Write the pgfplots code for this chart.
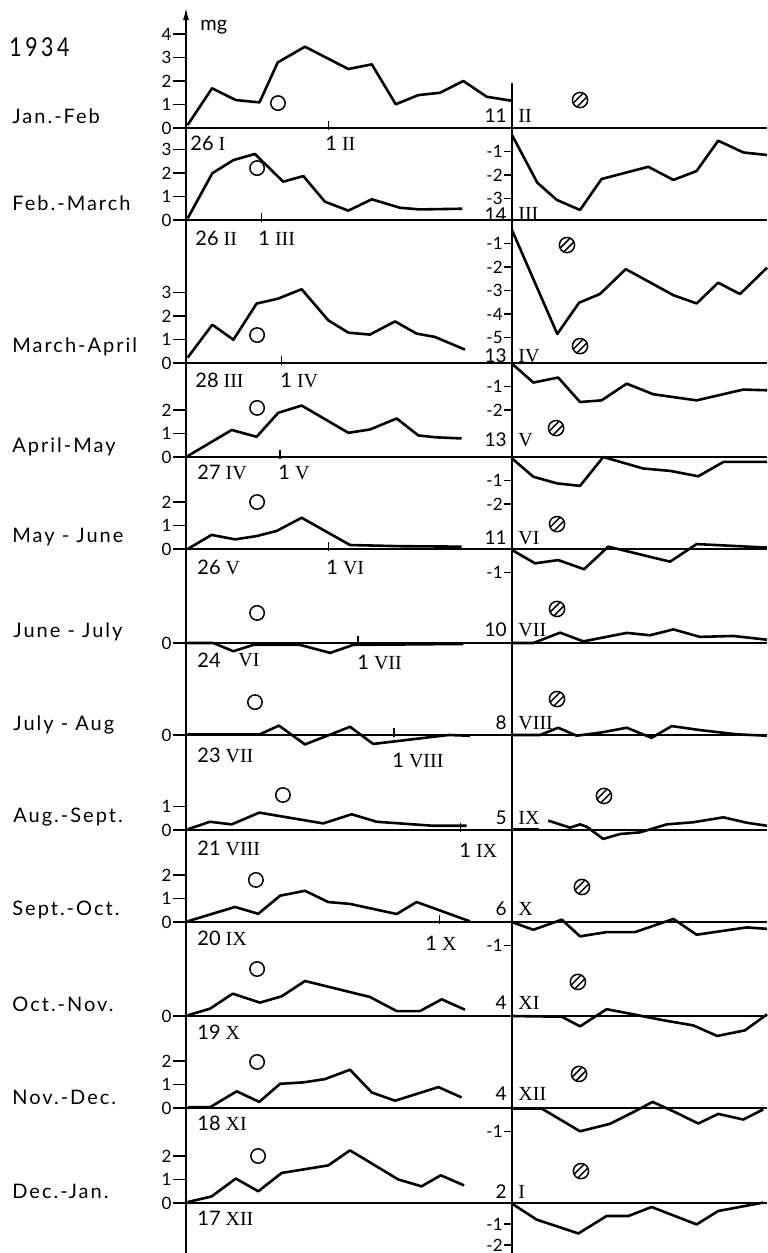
\documentclass[border=0pt]{standalone}
\usepackage{fontspec}
\setmainfont{Liberation Serif}
\newfontfamily\lato{Lato}
\newfontfamily\lab[LetterSpace=10]{Lato}
\usepackage{pgfplots}
\pgfplotsset{compat=1.18}
\usetikzlibrary{arrows.meta}

\pgfdeclareplotmark{hcirc}{%
 \pgfpathcircle{\pgfpointorigin}{\pgfplotmarksize}\pgfusepathqstroke
 \pgfpathmoveto{\pgfpoint{-0.909\pgfplotmarksize}{-0.415\pgfplotmarksize}}%
 \pgfpathlineto{\pgfpoint{0.415\pgfplotmarksize}{0.909\pgfplotmarksize}}%
 \pgfpathmoveto{\pgfpoint{-0.415\pgfplotmarksize}{-0.909\pgfplotmarksize}}%
 \pgfpathlineto{\pgfpoint{0.909\pgfplotmarksize}{0.415\pgfplotmarksize}}%
 \pgfusepathqstroke}

\pgfplotsset{
 base/.style={x=11.85pt, y=11.75pt, clip=false, xtick=\empty,
   tick align=outside,
   axis line style={-, line width=0.6pt},
   x axis line style={-}, y axis line style={-},
   every tick/.style={black, line width=0.6pt},
   tick label style={font=\lato\fontsize{8.5}{9}\selectfont, inner sep=0.5pt}},
 L/.style={base, xmin=0, xmax=13.76, ymin=0, anchor=south west,
   axis x line*=bottom, axis y line*=left, major tick length=6.5pt},
 R/.style={base, xmin=0, xmax=10.76, ymax=0, anchor=north west,
   axis x line*=top, axis y line*=left, major tick length=4pt},
 crv/.style={black, line width=1.3pt, line join=round, mark=none},
 fm/.style={only marks, mark=o, mark size=3.6pt, mark options={line width=0.75pt, black}},
 nm/.style={only marks, mark=hcirc, mark size=3.8pt, mark options={line width=0.75pt, black}},
}
\newcommand{\dt}[2]{{\lato #1}\hspace{2.5pt}#2}
\tikzset{lb/.style={anchor=west, inner sep=0pt, font=\lab\fontsize{10}{11}\selectfont},
 dl/.style={anchor=west, inner sep=0pt, font=\fontsize{10}{11}\selectfont},
 rn/.style={anchor=east, inner sep=0pt, font=\lato\fontsize{9.5}{11}\selectfont},
 dtick/.style={line width=0.6pt}}

\begin{document}
\begin{tikzpicture}
% ---------- Row 1 : Jan.-Feb ----------
\begin{axis}[L, at={(93pt,-64pt)}, ymax=5.1, ytick={0,1,2,3,4}, yticklabels={0,1,2,3,4},
  y axis line style={-{Latex[length=6pt,width=3pt]}}]
\addplot[crv] coordinates {(0.07,0.13)(1.1,1.69)(2.1,1.19)(3.1,1.09)(3.87,2.79)(5.02,3.46)(6.85,2.51)(7.84,2.71)(8.85,1.01)(9.8,1.4)(10.72,1.5)(11.7,2.0)(12.69,1.33)(13.74,1.16)};
\addplot[fm] coordinates {(3.88,1.06)};
\draw[dtick] (axis cs:6,-0.1) -- (axis cs:6,0.3);
\end{axis}
\begin{axis}[R, at={(256pt,-64pt)}, ymin=-3.91, ytick={-3,-2,-1}, yticklabels={-3,-2,-1}]
\addplot[crv] coordinates {(0,-0.3)(1.07,-2.33)(1.89,-3.06)(2.87,-3.49)(3.78,-2.17)(5.75,-1.65)(6.81,-2.21)(7.79,-1.83)(8.7,-0.54)(9.76,-1.04)(10.76,-1.15)};
\addplot[nm] coordinates {(2.87,1.19)};
\end{axis}
\draw[line width=0.6pt] (256pt,-41.5pt) -- (256pt,-64pt);
% ---------- Row 2 : Feb.-March ----------
\begin{axis}[L, at={(93pt,-110pt)}, ymax=3.91, ytick={0,1,2,3}, yticklabels={0,1,2,3}]
\addplot[crv] coordinates {(0.07,0.07)(1.11,1.99)(2.0,2.55)(2.91,2.81)(4.1,1.63)(4.95,1.87)(5.86,0.78)(6.85,0.4)(7.84,0.88)(9.03,0.52)(9.87,0.45)(11.66,0.48)};
\addplot[fm] coordinates {(3.0,2.21)};
\draw[dtick] (axis cs:3.2,-0.1) -- (axis cs:3.2,0.3);
\end{axis}
\begin{axis}[R, at={(256pt,-110pt)}, ymin=-6.09, ytick={-5,-4,-3,-2,-1}, yticklabels={-5,-4,-3,-2,-1}]
\addplot[crv] coordinates {(0,-0.43)(1.91,-4.85)(2.83,-3.52)(3.71,-3.15)(4.8,-2.09)(6.81,-3.2)(7.79,-3.55)(8.7,-2.67)(9.62,-3.15)(10.76,-2.03)};
\end{axis}
% ---------- Row 3 : March-April ----------
\begin{axis}[L, at={(93pt,-181.5pt)}, ymax=6.09, ytick={0,1,2,3}, yticklabels={0,1,2,3}]
\addplot[crv] coordinates {(0.07,0.23)(1.11,1.63)(2.0,0.99)(2.98,2.53)(3.89,2.74)(4.88,3.14)(6.0,1.82)(6.85,1.29)(7.76,1.21)(8.82,1.77)(9.73,1.25)(10.5,1.11)(11.77,0.57)};
\addplot[fm] coordinates {(3.0,1.19)};
\draw[dtick] (axis cs:4.04,-0.1) -- (axis cs:4.04,0.3);
\end{axis}
\begin{axis}[R, at={(256pt,-181.5pt)}, ymin=-4.0, ytick={-2,-1}, yticklabels={-2,-1}]
\addplot[crv] coordinates {(0,-0.03)(0.9,-0.83)(1.95,-0.62)(2.87,-1.66)(3.78,-1.59)(4.84,-0.88)(5.96,-1.33)(7.79,-1.59)(9.76,-1.13)(10.76,-1.16)};
\addplot[nm] coordinates {(2.32,5.02)(2.87,0.72)};
\end{axis}
% ---------- Row 4 : April-May ----------
\begin{axis}[L, at={(93pt,-228.5pt)}, ymax=4.0, ytick={0,1,2}, yticklabels={0,1,2}]
\addplot[crv] coordinates {(0.07,0.04)(1.93,1.15)(2.98,0.86)(3.89,1.88)(4.88,2.19)(6.85,1.03)(7.76,1.17)(8.89,1.64)(9.8,0.92)(10.5,0.84)(11.63,0.79)};
\addplot[fm] coordinates {(3.0,2.09)};
\draw[dtick] (axis cs:3.97,-0.1) -- (axis cs:3.97,0.3);
\end{axis}
\begin{axis}[R, at={(256pt,-228.5pt)}, ymin=-3.91, ytick={-2,-1}, yticklabels={-2,-1}]
\addplot[crv] coordinates {(0,-0.06)(0.9,-0.84)(1.89,-1.12)(2.87,-1.23)(3.85,0)(5.54,-0.49)(6.67,-0.59)(7.86,-0.82)(8.92,-0.21)(10.76,-0.21)};
\addplot[nm] coordinates {(1.86,1.23)};
\end{axis}
% ---------- Row 5 : May-June ----------
\begin{axis}[L, at={(93pt,-274.5pt)}, ymax=3.91, ytick={0,1,2}, yticklabels={0,1,2}]
\addplot[crv] coordinates {(0.07,0)(1.08,0.6)(2.07,0.41)(2.98,0.55)(3.83,0.77)(4.88,1.33)(6.92,0.17)(9,0.12)(11.63,0.1)};
\addplot[fm] coordinates {(3.0,2.0)};
\draw[dtick] (axis cs:6,-0.1) -- (axis cs:6,0.3);
\end{axis}
\begin{axis}[R, at={(256pt,-274.5pt)}, ymin=-4.0, ytick={-1}, yticklabels={-1}]
\addplot[crv] coordinates {(0,-0.04)(0.97,-0.61)(1.95,-0.47)(3.04,-0.86)(4.06,0.1)(6.67,-0.54)(7.79,0.21)(10.76,0.06)};
\addplot[nm] coordinates {(1.9,1.06)};
\end{axis}
% ---------- Row 6 : June-July ----------
\begin{axis}[L, at={(93pt,-321.5pt)}, ymax=4.0, ytick={0}, yticklabels={0}]
\addplot[crv] coordinates {(0.07,0)(1.15,0)(2.0,-0.35)(2.84,-0.08)(4.81,-0.08)(6.08,-0.42)(7.06,-0.08)(11.7,-0.04)};
\addplot[fm] coordinates {(3.0,1.28)};
\draw[dtick] (axis cs:7.26,-0.1) -- (axis cs:7.26,0.3);
\end{axis}
\begin{axis}[R, at={(256pt,-321.5pt)}, ymin=-3.91, ytick=\empty]
\addplot[crv] coordinates {(0,0)(0.9,0)(2.03,0.44)(3.01,0.07)(4.84,0.43)(5.82,0.33)(6.81,0.58)(7.93,0.26)(9.34,0.3)(10.76,0.14)};
\addplot[nm] coordinates {(1.9,1.45)};
\end{axis}
% ---------- Row 7 : July-Aug ----------
\begin{axis}[L, at={(93pt,-367.5pt)}, ymax=3.91, ytick={0}, yticklabels={0}]
\addplot[crv] coordinates {(0.07,0.03)(3.12,0.03)(3.92,0.4)(5.02,-0.4)(5.86,-0.07)(6.92,0.35)(7.9,-0.38)(11.07,0)(11.98,-0.03)};
\addplot[fm] coordinates {(2.91,1.4)};
\draw[dtick] (axis cs:8.78,-0.1) -- (axis cs:8.78,0.3);
\end{axis}
\begin{axis}[R, at={(256pt,-367.5pt)}, ymin=-4.04, ytick=\empty]
\addplot[crv] coordinates {(0,0)(1.18,0)(1.95,0.31)(2.73,-0.03)(3.78,0.11)(4.84,0.31)(5.89,-0.12)(6.74,0.38)(7.93,0.21)(9.48,0.03)(10.76,-0.03)};
\addplot[nm] coordinates {(1.9,1.53)};
\end{axis}
% ---------- Row 8 : Aug.-Sept. ----------
\begin{axis}[L, at={(93pt,-415pt)}, ymax=4.04, ytick={0,1}, yticklabels={0,1}]
\addplot[crv] coordinates {(0.07,0.03)(1.01,0.35)(1.93,0.24)(3.09,0.74)(5.79,0.28)(6.99,0.67)(8.05,0.35)(10.44,0.18)(11.84,0.18)};
\addplot[fm] coordinates {(4.09,1.49)};
\draw[dtick] (axis cs:11.59,-0.1) -- (axis cs:11.59,0.3);
\end{axis}
\begin{axis}[R, at={(256pt,-415pt)}, ymin=-3.91, ytick=\empty]
\addplot[crv] coordinates {(0,0.02)(1.15,0.02)};
\addplot[crv] coordinates {(1.53,0.4)(2.45,0.1)(2.87,0.24)(3.15,0.14)(3.85,-0.38)(4.56,-0.17)(5.4,-0.1)(6.53,0.24)(7.65,0.33)(8.92,0.54)(9.9,0.31)(10.76,0.18)};
\addplot[nm] coordinates {(3.88,1.45)};
\end{axis}
% ---------- Row 9 : Sept.-Oct. ----------
\begin{axis}[L, at={(93pt,-461pt)}, ymax=3.91, ytick={0,1,2}, yticklabels={0,1,2}]
\addplot[crv] coordinates {(0.07,0.03)(1.08,0.34)(2.07,0.64)(3.05,0.35)(3.97,1.12)(5.02,1.33)(6.0,0.85)(6.92,0.77)(8.89,0.34)(9.73,0.85)(11.98,0.03)};
\addplot[fm] coordinates {(2.95,1.79)};
\draw[dtick] (axis cs:10.69,-0.1) -- (axis cs:10.69,0.3);
\end{axis}
\begin{axis}[R, at={(256pt,-461pt)}, ymin=-4.0, ytick={-1}, yticklabels={-1}]
\addplot[crv] coordinates {(0,0)(0.9,-0.33)(2.1,0.1)(2.87,-0.61)(3.99,-0.43)(5.19,-0.43)(6.81,0.13)(7.79,-0.54)(9.9,-0.23)(10.76,-0.29)};
\addplot[nm] coordinates {(2.95,1.49)};
\end{axis}
% ---------- Row 10 : Oct.-Nov. ----------
\begin{axis}[L, at={(93pt,-508pt)}, ymax=4.0, ytick={0}, yticklabels={0}]
\addplot[crv] coordinates {(0.07,0.03)(1.01,0.31)(1.97,0.95)(3.12,0.57)(4.04,0.84)(5.02,1.49)(7.76,0.81)(8.89,0.21)(9.87,0.21)(10.79,0.71)(11.77,0.27)};
\addplot[fm] coordinates {(3.0,2.0)};
\end{axis}
\begin{axis}[R, at={(256pt,-508pt)}, ymin=-3.91, ytick=\empty]
\addplot[crv] coordinates {(0,0)(2.1,-0.03)(2.87,-0.44)(3.99,0.29)(4.98,0.1)(6.38,-0.18)(7.65,-0.4)(8.66,-0.85)(9.83,-0.61)(10.76,0.07)};
\addplot[nm] coordinates {(2.78,1.45)};
\end{axis}
% ---------- Row 11 : Nov.-Dec. ----------
\begin{axis}[L, at={(93pt,-554pt)}, ymax=3.91, ytick={0,1,2}, yticklabels={0,1,2}]
\addplot[crv] coordinates {(0.07,0.04)(1.01,0.03)(2.14,0.71)(3.09,0.26)(3.97,1.03)(4.95,1.09)(5.86,1.23)(6.92,1.63)(7.84,0.66)(8.82,0.31)(10.65,0.89)(11.63,0.45)};
\addplot[fm] coordinates {(3.0,1.96)};
\end{axis}
\begin{axis}[R, at={(256pt,-554pt)}, ymin=-4.04, ytick={-1}, yticklabels={-1}]
\addplot[crv] coordinates {(0,-0.02)(1.25,-0.02)(2.87,-0.99)(4.14,-0.67)(5.19,-0.14)(5.93,0.26)(6.81,-0.14)(7.86,-0.66)(8.7,-0.25)(9.76,-0.49)(10.6,-0.06)};
\addplot[nm] coordinates {(2.83,1.45)};
\end{axis}
% ---------- Row 12 : Dec.-Jan. ----------
\begin{axis}[L, at={(93pt,-601.5pt)}, ymax=4.04, ytick={0,1,2}, yticklabels={0,1,2}]
\addplot[crv] coordinates {(0.07,0.04)(1.08,0.28)(2.1,1.04)(3.05,0.5)(4.04,1.28)(6.0,1.6)(6.92,2.24)(8.96,1.0)(9.94,0.71)(10.75,1.18)(11.73,0.75)};
\addplot[fm] coordinates {(3.04,2.0)};
\end{axis}
\begin{axis}[R, at={(256pt,-601.5pt)}, y=10.5pt, ymin=-2.38, ytick={-2,-1}, yticklabels={-2,-1}]
\addplot[crv] coordinates {(0,-0.03)(1.04,-0.79)(2.8,-1.45)(3.99,-0.62)(4.91,-0.62)(5.89,-0.19)(7.79,-1.02)(8.7,-0.38)(10.6,0.02)};
\addplot[nm] coordinates {(2.91,1.52)};
\end{axis}
\draw[line width=0.6pt] (93pt,-601.5pt) -- (93pt,-626.5pt);

% ---------- texts ----------
\node[anchor=west, inner sep=0pt, font=\lato\fontsize{13}{14}\selectfont] at (4.5pt,-23.5pt) {\scalebox{0.82}[1]{1\,9\,3\,4}};
\node[anchor=west, inner sep=0pt, font=\lato\fontsize{10}{11}\selectfont] at (100pt,-13.5pt) {mg};
\node[lb] at (6pt,-58pt) {Jan.-Feb};
\node[lb] at (6pt,-101.5pt) {Feb.-March};
\node[lb] at (6pt,-173.5pt) {March-April};
\node[lb] at (6pt,-223.5pt) {April-May};
\node[lb] at (6pt,-268.5pt) {May - June};
\node[lb] at (6.5pt,-316pt) {June - July};
\node[lb] at (6.5pt,-362.5pt) {July - Aug};
\node[lb] at (6.5pt,-408.5pt) {Aug.-Sept.};
\node[lb] at (6pt,-455pt) {Sept.-Oct.};
\node[lb] at (6pt,-502pt) {Oct.-Nov.};
\node[lb] at (6pt,-548.5pt) {Nov.-Dec.};
\node[lb] at (6pt,-595.5pt) {Dec.-Jan.};
% left date labels
\node[dl] at (95pt,-71.5pt) {\dt{26}{I}};
\node[dl] at (162.5pt,-71.5pt) {\dt{1}{II}};
\node[dl] at (97.5pt,-119pt) {\dt{26}{II}};
\node[dl] at (129pt,-119pt) {\dt{1}{III}};
\node[dl] at (97.5pt,-190pt) {\dt{28}{III}};
\node[dl] at (140pt,-190pt) {\dt{1}{IV}};
\node[dl] at (98.5pt,-236pt) {\dt{27}{IV}};
\node[dl] at (139pt,-236pt) {\dt{1}{V}};
\node[dl] at (98.5pt,-283.5pt) {\dt{26}{V}};
\node[dl] at (163pt,-283.5pt) {\dt{1}{VI}};
\node[dl] at (98.5pt,-330pt) {\lato 24};
\node[dl] at (119pt,-330pt) {VI};
\node[dl] at (178.5pt,-331pt) {\dt{1}{VII}};
\node[dl] at (98.5pt,-377.5pt) {\dt{23}{VII}};
\node[dl] at (196pt,-380pt) {\dt{1}{VIII}};
\node[dl] at (98.5pt,-424pt) {\dt{21}{VIII}};
\node[dl] at (229.5pt,-425pt) {\dt{1}{IX}};
\node[dl] at (98.5pt,-469pt) {\dt{20}{IX}};
\node[dl] at (212.5pt,-471.5pt) {\dt{1}{X}};
\node[dl] at (98.5pt,-516pt) {\dt{19}{X}};
\node[dl] at (98.5pt,-561.5pt) {\dt{18}{XI}};
\node[dl] at (98.5pt,-609pt) {\dt{17}{XII}};
% right date labels
\node[rn] at (253.5pt,-58pt) {11};   \node[dl] at (259pt,-58pt) {II};
\node[rn] at (253.5pt,-107.5pt) {14}; \node[dl] at (259pt,-107pt) {III};
\node[rn] at (253.5pt,-178pt) {13};   \node[dl] at (259pt,-178pt) {IV};
\node[rn] at (253.5pt,-220pt) {13};   \node[dl] at (259pt,-220pt) {V};
\node[rn] at (253.5pt,-269pt) {11};   \node[dl] at (259pt,-269pt) {VI};
\node[rn] at (253.5pt,-315pt) {10};   \node[dl] at (259pt,-315pt) {VII};
\node[rn] at (253.5pt,-361.5pt) {8};  \node[dl] at (259pt,-361.5pt) {VIII};
\node[rn] at (253.5pt,-409pt) {5};    \node[dl] at (259pt,-409pt) {IX};
\node[rn] at (253.5pt,-454.5pt) {6};  \node[dl] at (259pt,-454.5pt) {X};
\node[rn] at (253.5pt,-501.5pt) {4};  \node[dl] at (259pt,-501.5pt) {XI};
\node[rn] at (253.5pt,-547pt) {4};    \node[dl] at (259pt,-547pt) {XII};
\node[rn] at (253.5pt,-596pt) {2};    \node[dl] at (259pt,-596pt) {I};

\pgfresetboundingbox
\path[use as bounding box] (0,0) rectangle (383.5pt,-626.5pt);
\end{tikzpicture}
\end{document}
